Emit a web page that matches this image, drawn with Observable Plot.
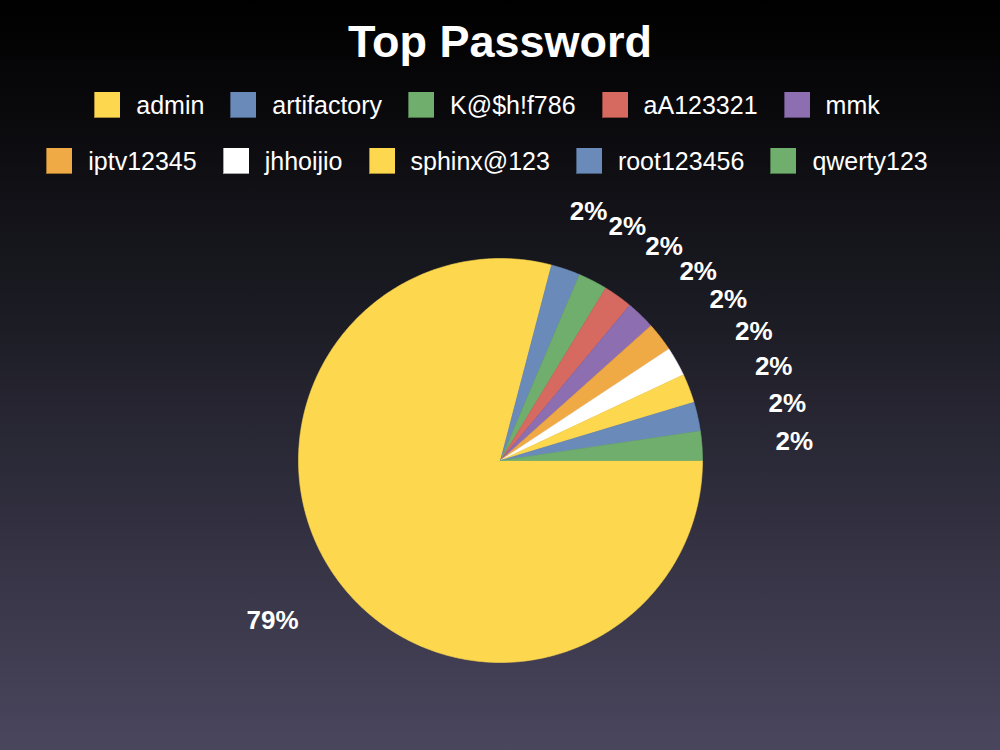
<!DOCTYPE html>
<html>
<head>
<meta charset="utf-8">
<script src="https://cdn.jsdelivr.net/npm/d3@7"></script>
<script src="https://cdn.jsdelivr.net/npm/@observablehq/plot@0.6"></script>
<style>
  html, body { margin: 0; padding: 0; }
  body {
    width: 1000px; height: 750px; overflow: hidden;
    background: linear-gradient(to bottom, #000000 0%, #1a1a22 40%, #4a465e 100%);
    font-family: "Liberation Sans", Arial, Helvetica, sans-serif;
    color: #fff;
  }
  #title {
    height: 84px; line-height: 84px; text-align: center;
    font-size: 45px; font-weight: bold; margin: 0;
  }
  #legend { height: 106px; box-sizing: border-box; padding-top: 7px; }
  .row { display: flex; justify-content: center; height: 28px; margin-bottom: 28px; }
  .item { display: flex; align-items: center; height: 28px; margin-right: 26px; font-size: 25px; }
  .sw { width: 26px; height: 26px; margin-right: 16px; box-sizing: border-box;
        border-left: 1px solid rgba(0,0,0,0.35); border-bottom: 1px solid rgba(0,0,0,0.35); }
</style>
</head>
<body>
<div id="title">Top Password</div>
<div id="legend"></div>
<div id="chart"></div>
<script>
const names = ["admin", "artifactory", "K@$h!f786", "aA123321", "mmk", "iptv12345", "jhhoijio", "sphinx@123", "root123456", "qwerty123"];
const counts = [34, 1, 1, 1, 1, 1, 1, 1, 1, 1];
const colors = ["#fdd84f", "#6a8aba", "#70ae6e", "#d66a60", "#8d6eb1", "#f0aa45", "#ffffff", "#fdd84f", "#6a8aba", "#70ae6e"];

// Legend (HTML, above the SVG)
const legend = document.getElementById("legend");
let row;
names.forEach((n, i) => {
  if (i % 5 === 0) { row = document.createElement("div"); row.className = "row"; legend.appendChild(row); }
  const it = document.createElement("div"); it.className = "item";
  const sw = document.createElement("div"); sw.className = "sw"; sw.style.background = colors[i];
  const tx = document.createElement("span"); tx.textContent = n;
  it.appendChild(sw); it.appendChild(tx); row.appendChild(it);
});

// Pie geometry computed from the data
const total = d3.sum(counts);
const R = 202;
let cum = 0;
const polys = [];
const labels = [];
names.forEach((n, i) => {
  const a0 = -cum / total * 2 * Math.PI;
  cum += counts[i];
  const a1 = -cum / total * 2 * Math.PI;
  const steps = Math.max(4, Math.ceil(Math.abs(a1 - a0) / (Math.PI / 360)));
  polys.push({name: n, color: colors[i], x: 0, y: 0});
  for (let s = 0; s <= steps; s++) {
    const a = a0 + (a1 - a0) * s / steps;
    polys.push({name: n, color: colors[i], x: R * Math.cos(a), y: R * Math.sin(a)});
  }
  polys.push({name: n, color: colors[i], x: 0, y: 0});
  const am = (a0 + a1) / 2;
  const c = Math.cos(am);
  labels.push({
    text: Math.round(100 * counts[i] / total) + "%",
    x: 1.3 * R * c + 32 * c * Math.abs(c),
    y: 1.3 * R * Math.sin(am)
  });
});

const chart = Plot.plot({
  width: 1000,
  height: 560,
  margin: 0,
  x: {domain: [-500, 500], axis: null},
  y: {domain: [-290, 270], axis: null},
  style: {background: "transparent", color: "#fff", fontFamily: "Liberation Sans, Arial, sans-serif"},
  marks: [
    Plot.line(polys, {x: "x", y: "y", z: "name", fill: "color", stroke: "color", strokeWidth: 0.6, curve: "linear"}),
    Plot.text(labels, {x: "x", y: "y", text: "text", fill: "#fff", fontSize: 26, fontWeight: "bold", fontFamily: "Liberation Sans, Arial, sans-serif"})
  ]
});
document.getElementById("chart").appendChild(chart);
</script>
</body>
</html>
